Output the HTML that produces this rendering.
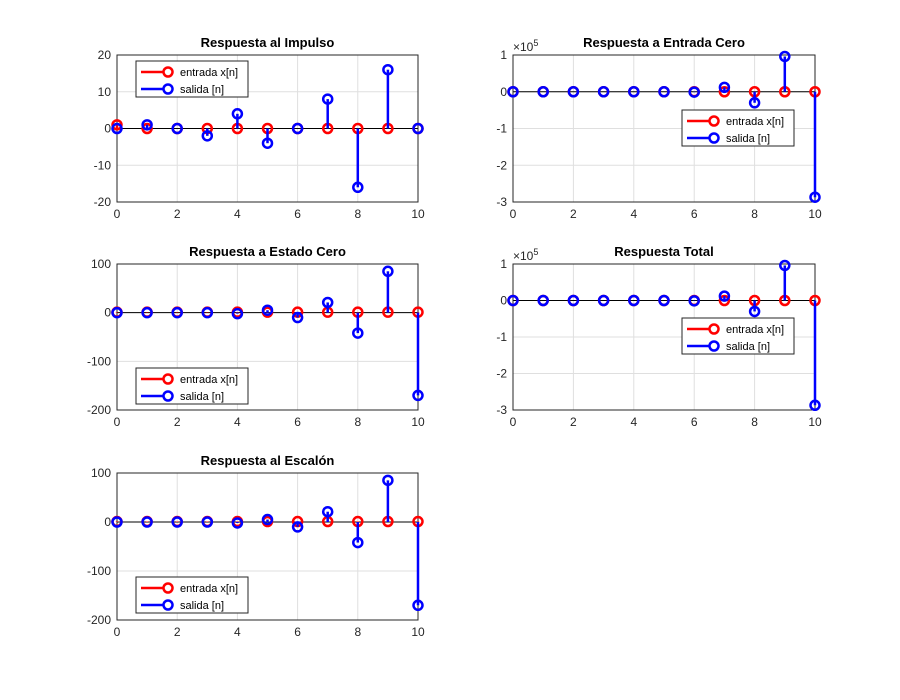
<!DOCTYPE html>
<html><head><meta charset="utf-8">
<style>
body{margin:0;background:#fff;}
svg{font-family:"Liberation Sans",sans-serif;}
</style></head>
<body>
<svg id="fig" width="900" height="695" xmlns="http://www.w3.org/2000/svg"></svg>
<script>
const nIdx=[0,1,2,3,4,5,6,7,8,9,10];
const impulsoIn=[1,0,0,0,0,0,0,0,0,0,0];
const impulsoOut=[0,1,0,-2,4,-4,0,8,-16,16,0];
const entradaCeroIn=[0,0,0,0,0,0,0,0,0,0,0];
const entradaCeroOut=[0,0,0,0,0,0,-0.01,0.12,-0.3,0.96,-2.87];
const estadoCeroIn=[1,1,1,1,1,1,1,1,1,1,1];
const estadoCeroOut=[0,0,0,0,-2,5,-10,21,-42,85,-170];
const totalIn=[0,0,0,0,0,0,0,0,0,0,0];
const totalOut=[0,0,0,0,0,0,-0.01,0.12,-0.3,0.96,-2.87];
const escalonIn=[1,1,1,1,1,1,1,1,1,1,1];
const escalonOut=[0,0,0,0,-2,5,-10,21,-42,85,-170];
const xTicks=[0,2,4,6,8,10];
const yTicks1=[-20,-10,0,10,20];
const yTicks2=[-3,-2,-1,0,1];
const yTicks3=[-200,-100,0,100];

const NS="http://www.w3.org/2000/svg";
const svg=document.getElementById('fig');
function mk(tag,attrs,parent){const e=document.createElementNS(NS,tag);for(const k in attrs)e.setAttribute(k,attrs[k]);(parent||svg).appendChild(e);return e;}

function plot(cfg){
  const g=mk('g',{});
  
  
  const {x0,x1,y0,y1,ymin,ymax}=cfg;
  const sx=v=>x0+(v-0)/(10-0)*(x1-x0);
  const sy=v=>y1-(v-ymin)/(ymax-ymin)*(y1-y0);
  mk('rect',{x:x0,y:y0,width:x1-x0,height:y1-y0,fill:'#fff'},g);
  xTicks.forEach(t=>{
    mk('line',{x1:sx(t),x2:sx(t),y1:y0,y2:y1,stroke:'#dfdfdf','stroke-width':1},g);
    const tx=mk('text',{x:sx(t),y:y1+16,'font-size':12,'text-anchor':'middle',fill:'#262626'},g);
    tx.textContent=t;
    
    
  });
  cfg.yTicks.forEach(t=>{
    mk('line',{x1:x0,x2:x1,y1:sy(t),y2:sy(t),stroke:'#dfdfdf','stroke-width':1},g);
    const tx=mk('text',{x:x0-6,y:sy(t)+4,'font-size':12,'text-anchor':'end',fill:'#262626'},g);
    tx.textContent=t;
    
    
  });
  mk('line',{x1:x0,x2:x1,y1:sy(0),y2:sy(0),stroke:'#000','stroke-width':1},g);
  mk('rect',{x:x0,y:y0,width:x1-x0,height:y1-y0,fill:'none',stroke:'#262626','stroke-width':1},g);
  if(cfg.exp){
    const e=mk('text',{x:x0,y:y0-4,'font-size':12,fill:'#262626'},g);
    e.innerHTML='×10<tspan dy="-5" font-size="9">5</tspan>';
    
    
  }
  const t=mk('text',{x:(x0+x1)/2,y:y0-8,'font-size':13,'font-weight':'bold','text-anchor':'middle',fill:'#000'},g);
  t.textContent=cfg.title;
  
  
  [[cfg.inp,'#ff0000','input'],[cfg.out,'#0000ff','output']].forEach(([arr,col,nm])=>{
    arr.forEach((v,i)=>{
      const l=mk('line',{x1:sx(nIdx[i]),x2:sx(nIdx[i]),y1:sy(0),y2:sy(v),stroke:col,'stroke-width':2.5},g);
      
      
      const c=mk('circle',{cx:sx(nIdx[i]),cy:sy(v),r:4.5,fill:'none',stroke:col,'stroke-width':2.5},g);
      
      
    });
  });
  const [lx,ly]=cfg.legend;
  const lg=mk('g',{},g);
  
  
  mk('rect',{x:lx,y:ly,width:112,height:36,fill:'#fff',stroke:'#262626','stroke-width':1},lg);
  [['entrada x[n]','#ff0000',11],['salida [n]','#0000ff',28]].forEach(([lab,col,dy])=>{
    mk('line',{x1:lx+5,x2:lx+33,y1:ly+dy,y2:ly+dy,stroke:col,'stroke-width':2.5},lg);
    mk('circle',{cx:lx+32,cy:ly+dy,r:4.5,fill:'#fff',stroke:col,'stroke-width':2.5},lg);
    const tt=mk('text',{x:lx+44,y:ly+dy+4,'font-size':11,fill:'#000'},lg);
    tt.textContent=lab;
  });
}
plot({name:'plot-impulso',title:'Respuesta al Impulso',x0:117,x1:418,y0:55,y1:202,ymin:-20,ymax:20,yTicks:yTicks1,inp:impulsoIn,out:impulsoOut,legend:[136,61]});
plot({name:'plot-entrada-cero',title:'Respuesta a Entrada Cero',x0:513,x1:815,y0:55,y1:202,ymin:-3,ymax:1,yTicks:yTicks2,inp:entradaCeroIn,out:entradaCeroOut,legend:[682,110],exp:true});
plot({name:'plot-estado-cero',title:'Respuesta a Estado Cero',x0:117,x1:418,y0:264,y1:410,ymin:-200,ymax:100,yTicks:yTicks3,inp:estadoCeroIn,out:estadoCeroOut,legend:[136,368]});
plot({name:'plot-total',title:'Respuesta Total',x0:513,x1:815,y0:264,y1:410,ymin:-3,ymax:1,yTicks:yTicks2,inp:totalIn,out:totalOut,legend:[682,318],exp:true});
plot({name:'plot-escalon',title:'Respuesta al Escalón',x0:117,x1:418,y0:473,y1:620,ymin:-200,ymax:100,yTicks:yTicks3,inp:escalonIn,out:escalonOut,legend:[136,577]});
</script>
</body></html>
